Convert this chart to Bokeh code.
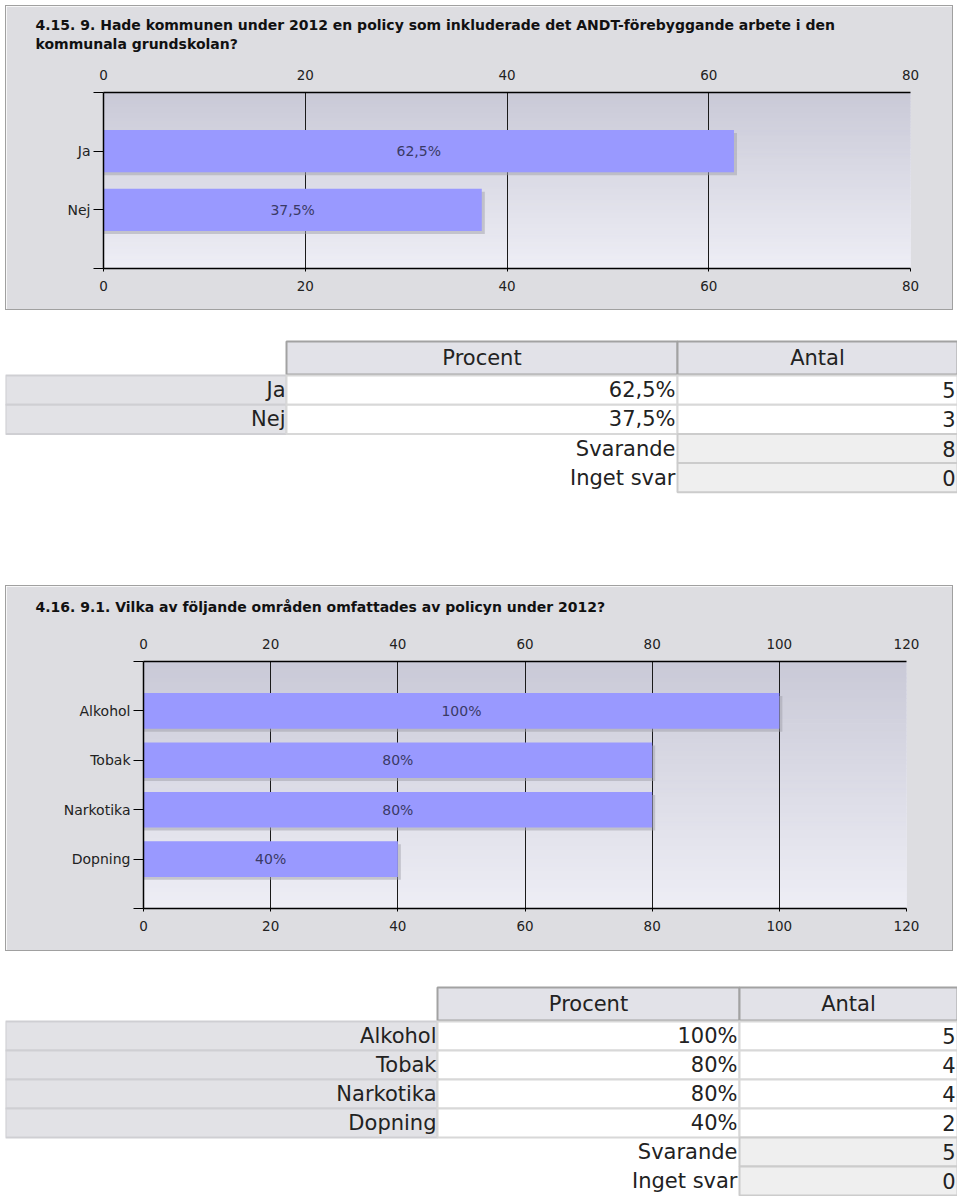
from bokeh.plotting import figure
from bokeh.models import Range1d, FixedTicker, LinearAxis
from bokeh.layouts import column
from bokeh.embed import file_html
from bokeh.resources import INLINE
from bokeh.core.properties import value
import numpy as np

# ---------------- data ----------------
q1_title = ["4.15. 9. Hade kommunen under 2012 en policy som inkluderade det ANDT-förebyggande arbete i den",
            "kommunala grundskolan?"]
q1_categories = ["Ja", "Nej"]
q1_percent = [62.5, 37.5]
q1_percent_labels = ["62,5%", "37,5%"]
q1_counts = [5, 3]
q1_answered = 8
q1_no_answer = 0
q1_ticks = [0, 20, 40, 60, 80]

q2_title = ["4.16. 9.1. Vilka av följande områden omfattades av policyn under 2012?"]
q2_categories = ["Alkohol", "Tobak", "Narkotika", "Dopning"]
q2_percent = [100, 80, 80, 40]
q2_percent_labels = ["100%", "80%", "80%", "40%"]
q2_counts = [5, 4, 4, 2]
q2_answered = 5
q2_no_answer = 0
q2_ticks = [0, 20, 40, 60, 80, 100, 120]

table_headers = ["Procent", "Antal"]
summary_labels = ["Svarande", "Inget svar"]

# ---------------- styles ----------------
FONT = "DejaVu Sans"
PANEL_BG = "#dddde1"
PANEL_BORDER = "#a0a0a0"
BAR = "#9999ff"
GRAD_TOP = np.array([202, 202, 216])
GRAD_BOT = np.array([238, 238, 245])


def make_chart(title_lines, cats, vals, labels, ticks, H, left, right, top, bottom,
               title_offset, title_standoff, spacer):
    W = 948
    fw = W - left - right
    fh = H - top - bottom
    xmax = ticks[-1]
    n = len(cats) + 1
    px_x = xmax / fw
    px_y = n / fh
    p = figure(width=W, height=H, x_range=Range1d(0, xmax), y_range=Range1d(n, 0),
               min_border_left=left, min_border_right=right,
               min_border_top=top, min_border_bottom=bottom,
               output_backend="svg", toolbar_location=None, tools="")
    p.frame_align = False
    p.styles = {"border": "1px solid " + PANEL_BORDER}
    p.border_fill_color = PANEL_BG
    p.background_fill_color = "#e4e4ee"
    p.outline_line_color = None

    # title
    p.title.text = "\n".join(title_lines)
    p.title.align = "left"
    p.title.offset = title_offset
    p.title.standoff = title_standoff
    p.title.text_font = FONT
    p.title.text_font_style = "bold"
    p.title.text_font_size = "14px"
    p.title.text_line_height = 1.17
    p.title.text_color = "#111111"

    # gradient background of the plotting area
    K = 60
    edges = np.linspace(0, n, K + 1)
    cols = []
    for k in range(K):
        t = k / (K - 1)
        c = (GRAD_TOP * (1 - t) + GRAD_BOT * t).astype(int)
        cols.append("#%02x%02x%02x" % tuple(c))
    p.quad(left=0, right=xmax, top=edges[:-1], bottom=edges[1:], fill_color=cols,
           line_color=cols, line_width=1, level="image")

    # grid
    p.xgrid.ticker = FixedTicker(ticks=ticks)
    p.xgrid.grid_line_color = "#1a1a1a"
    p.xgrid.grid_line_width = 1
    p.ygrid.visible = False

    pos = list(range(1, len(cats) + 1))
    bh = 0.72
    # shadow
    p.hbar(y=[y + 3 * px_y for y in pos], height=bh, left=0,
           right=[v + 3 * px_x for v in vals], fill_color="#a0a0aa", fill_alpha=0.5,
           line_color=None)
    p.hbar(y=pos, height=bh, left=0, right=vals, fill_color=BAR, line_color=None)
    p.text(x=[v / 2 for v in vals], y=pos, text=labels, text_align="center",
           text_baseline="middle", text_font=value(FONT), text_font_size="14px",
           text_color="#3a3a66")

    # axes
    top_axis = LinearAxis(axis_label=" ", axis_label_text_font_size="1px",
                          axis_label_standoff=spacer)
    p.add_layout(top_axis, "above")
    for ax, tout in ((p.below[0], 3), (top_axis, 0)):
        ax.ticker = FixedTicker(ticks=ticks)
        ax.axis_line_color = "black"
        ax.axis_line_width = 1.5
        ax.major_tick_line_color = "black"
        ax.major_tick_in = 0
        ax.major_tick_out = tout
        ax.minor_tick_line_color = None
        ax.major_label_text_font = FONT
        ax.major_label_text_font_size = "13.5px"
        ax.major_label_text_color = "#222222"
        ax.major_label_standoff = 9 if tout else 13
    yax = p.left[0]
    yax.ticker = FixedTicker(ticks=list(range(0, n + 1)))
    overrides = {0: "", n: ""}
    for i, c in enumerate(cats):
        overrides[i + 1] = c
    yax.major_label_overrides = overrides
    yax.axis_line_color = "black"
    yax.axis_line_width = 1.5
    yax.major_tick_line_color = "black"
    yax.major_tick_in = 0
    yax.major_tick_out = 10
    yax.minor_tick_line_color = None
    yax.major_label_standoff = 3
    yax.major_label_text_font = FONT
    yax.major_label_text_font_size = "14px"
    yax.major_label_text_color = "#222222"
    return p


def make_table(cats, pct_labels, counts, answered, no_answer, H, col_edges,
               header_top, header_h, row_top, pitch):
    W = 952
    p = figure(width=W, height=H, x_range=Range1d(0, W), y_range=Range1d(H, 0),
               min_border=0, output_backend="svg", toolbar_location=None, tools="",
               x_axis_location=None, y_axis_location=None)
    p.frame_align = False
    p.outline_line_color = None
    p.grid.visible = False
    p.background_fill_color = "white"
    p.border_fill_color = "white"

    # header
    p.quad(left=col_edges[1:3], right=col_edges[2:4], top=header_top,
           bottom=header_top + header_h, fill_color="#e2e2e8", line_color="#a2a2a2",
           line_width=2)
    p.text(x=[(col_edges[1] + col_edges[2]) / 2, (col_edges[2] + col_edges[3]) / 2],
           y=header_top + header_h / 2, text=table_headers, text_align="center",
           text_baseline="middle", text_font=value(FONT), text_font_size="21px",
           text_color="#222222")

    nr = len(cats)
    tops = [row_top + i * pitch for i in range(nr)]
    bots = [t + pitch for t in tops]
    mids = [t + pitch / 2 for t in tops]
    p.quad(left=col_edges[0], right=col_edges[1], top=tops, bottom=bots,
           fill_color="#e2e2e6", line_color="#cfcfd3", line_width=2)
    p.quad(left=col_edges[1], right=col_edges[2], top=tops, bottom=bots,
           fill_color="white", line_color="#d8d8d8", line_width=2)
    p.quad(left=col_edges[2], right=col_edges[3], top=tops, bottom=bots,
           fill_color="white", line_color="#d8d8d8", line_width=2)

    stops = [row_top + (nr + i) * pitch for i in range(2)]
    sbots = [t + pitch for t in stops]
    smids = [t + pitch / 2 for t in stops]
    p.quad(left=col_edges[2], right=col_edges[3], top=stops, bottom=sbots,
           fill_color="#efefef", line_color="#cccccc", line_width=2)

    tk = dict(text_align="right", text_baseline="middle", text_font=value(FONT),
              text_font_size="21px", text_color="#222222")
    p.text(x=col_edges[1] - 1, y=mids, text=cats, **tk)
    p.text(x=col_edges[2] - 2, y=mids, text=pct_labels, **tk)
    p.text(x=col_edges[3] - 2, y=mids, text=[str(c) for c in counts], **tk)
    p.text(x=col_edges[2] - 2, y=smids, text=summary_labels, **tk)
    p.text(x=col_edges[3] - 2, y=smids, text=[str(answered), str(no_answer)], **tk)
    return p


chart1 = make_chart(q1_title, q1_categories, q1_percent, q1_percent_labels, q1_ticks,
                    H=305, left=97, right=44, top=86, bottom=43,
                    title_offset=-68, title_standoff=17, spacer=2)
table1 = make_table(q1_categories, q1_percent_labels, q1_counts, q1_answered, q1_no_answer,
                    H=275, col_edges=[0, 281, 672, 952], header_top=31, header_h=33,
                    row_top=65, pitch=29.2)
chart2 = make_chart(q2_title, q2_categories, q2_percent, q2_percent_labels, q2_ticks,
                    H=366, left=137, right=48, top=72, bottom=44,
                    title_offset=-108, title_standoff=20, spacer=7)
table2 = make_table(q2_categories, q2_percent_labels, q2_counts, q2_answered, q2_no_answer,
                    H=245, col_edges=[0, 432, 734, 952], header_top=36, header_h=33,
                    row_top=70, pitch=29)

layout = column(chart1, table1, chart2, table2, spacing=0, margin=(5, 0, 0, 5))
open("out.html", "w").write(file_html(layout, INLINE))
